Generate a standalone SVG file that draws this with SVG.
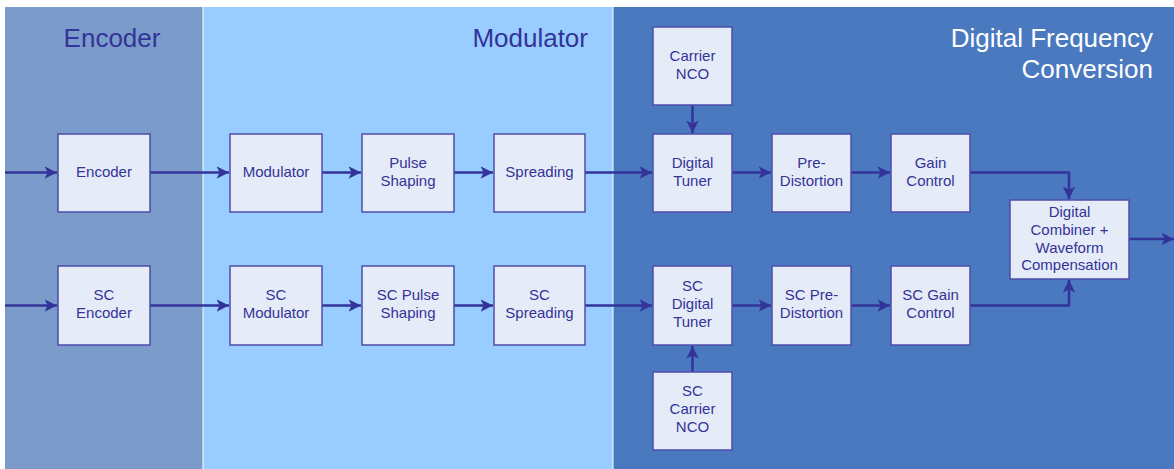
<svg xmlns="http://www.w3.org/2000/svg" width="1174" height="469" viewBox="0 0 1174 469">
<defs>
<style>
.box{fill:#e6ecf7;stroke:#4c4caa;stroke-width:1.5}
.t{font-family:"Liberation Sans",Arial,sans-serif;font-size:15px;fill:#333399;text-anchor:middle}
.title{font-family:"Liberation Sans",Arial,sans-serif;font-size:26px;fill:#333399}
.wt{fill:#ffffff}
.c{fill:none;stroke:#333399;stroke-width:2.5}
</style>
<marker id="ah" viewBox="0 0 10 10" refX="10" refY="5" markerWidth="5" markerHeight="5" markerUnits="strokeWidth" orient="auto">
<path d="M0,0 L10,5 L0,10 L2.5,5 z" fill="#333399"/>
</marker>
</defs>
<rect x="0" y="0" width="1174" height="469" fill="#ffffff"/>
<g id="panels">
<rect x="5" y="7" width="197.5" height="462" fill="#7b9bca"/>
<rect x="203.5" y="7" width="409" height="462" fill="#99ccff"/>
<rect x="613.5" y="7" width="560.5" height="462" fill="#4a79c0"/>
<text class="title" x="112" y="47" text-anchor="middle">Encoder</text>
<text class="title" x="588" y="47" text-anchor="end">Modulator</text>
<text class="title wt" x="1153" y="47" text-anchor="end">Digital Frequency</text>
<text class="title wt" x="1153" y="78" text-anchor="end">Conversion</text>
</g>
<g id="connectors">
<path class="c" d="M5,172.5 H57" marker-end="url(#ah)"/>
<path class="c" d="M150,172.5 H229" marker-end="url(#ah)"/>
<path class="c" d="M322,172.5 H361" marker-end="url(#ah)"/>
<path class="c" d="M454,172.5 H493" marker-end="url(#ah)"/>
<path class="c" d="M585,172.5 H652" marker-end="url(#ah)"/>
<path class="c" d="M732,172.5 H771" marker-end="url(#ah)"/>
<path class="c" d="M851,172.5 H890" marker-end="url(#ah)"/>
<path class="c" d="M970,172.5 H1069 V199" marker-end="url(#ah)"/>
<path class="c" d="M692.5,105 V133" marker-end="url(#ah)"/>
<path class="c" d="M5,305.5 H57" marker-end="url(#ah)"/>
<path class="c" d="M150,305.5 H229" marker-end="url(#ah)"/>
<path class="c" d="M322,305.5 H361" marker-end="url(#ah)"/>
<path class="c" d="M454,305.5 H493" marker-end="url(#ah)"/>
<path class="c" d="M585,305.5 H652" marker-end="url(#ah)"/>
<path class="c" d="M732,305.5 H771" marker-end="url(#ah)"/>
<path class="c" d="M851,305.5 H890" marker-end="url(#ah)"/>
<path class="c" d="M970,305.5 H1069 V280" marker-end="url(#ah)"/>
<path class="c" d="M692.5,372 V346" marker-end="url(#ah)"/>
<path class="c" d="M1129,239 H1174" marker-end="url(#ah)"/>
</g>
<g id="encoder"><rect class="box" x="58" y="134" width="92" height="78"/><text class="t" x="104" y="177">Encoder</text></g>
<g id="modulator"><rect class="box" x="230" y="134" width="92" height="78"/><text class="t" x="276" y="177">Modulator</text></g>
<g id="pulse-shaping"><rect class="box" x="362" y="134" width="92" height="78"/><text class="t" x="408" y="168">Pulse</text><text class="t" x="408" y="186">Shaping</text></g>
<g id="spreading"><rect class="box" x="494" y="134" width="91" height="78"/><text class="t" x="539.5" y="177">Spreading</text></g>
<g id="carrier-nco"><rect class="box" x="653" y="27" width="79" height="78"/><text class="t" x="692.5" y="61">Carrier</text><text class="t" x="692.5" y="79">NCO</text></g>
<g id="digital-tuner"><rect class="box" x="653" y="134" width="79" height="78"/><text class="t" x="692.5" y="168">Digital</text><text class="t" x="692.5" y="186">Tuner</text></g>
<g id="pre-distortion"><rect class="box" x="772" y="134" width="79" height="78"/><text class="t" x="811.5" y="168">Pre-</text><text class="t" x="811.5" y="186">Distortion</text></g>
<g id="gain-control"><rect class="box" x="891" y="134" width="79" height="78"/><text class="t" x="930.5" y="168">Gain</text><text class="t" x="930.5" y="186">Control</text></g>
<g id="combiner"><rect class="box" x="1010" y="200" width="119" height="79"/><text class="t" x="1069.5" y="217">Digital</text><text class="t" x="1069.5" y="235">Combiner +</text><text class="t" x="1069.5" y="253">Waveform</text><text class="t" x="1069.5" y="270">Compensation</text></g>
<g id="sc-encoder"><rect class="box" x="58" y="266" width="92" height="79"/><text class="t" x="104" y="300">SC</text><text class="t" x="104" y="318">Encoder</text></g>
<g id="sc-modulator"><rect class="box" x="230" y="266" width="92" height="79"/><text class="t" x="276" y="300">SC</text><text class="t" x="276" y="318">Modulator</text></g>
<g id="sc-pulse-shaping"><rect class="box" x="362" y="266" width="92" height="79"/><text class="t" x="408" y="300">SC Pulse</text><text class="t" x="408" y="318">Shaping</text></g>
<g id="sc-spreading"><rect class="box" x="494" y="266" width="91" height="79"/><text class="t" x="539.5" y="300">SC</text><text class="t" x="539.5" y="318">Spreading</text></g>
<g id="sc-digital-tuner"><rect class="box" x="653" y="266" width="79" height="79"/><text class="t" x="692.5" y="291">SC</text><text class="t" x="692.5" y="309">Digital</text><text class="t" x="692.5" y="327">Tuner</text></g>
<g id="sc-pre-distortion"><rect class="box" x="772" y="266" width="79" height="79"/><text class="t" x="811.5" y="300">SC Pre-</text><text class="t" x="811.5" y="318">Distortion</text></g>
<g id="sc-gain-control"><rect class="box" x="891" y="266" width="79" height="79"/><text class="t" x="930.5" y="300">SC Gain</text><text class="t" x="930.5" y="318">Control</text></g>
<g id="sc-carrier-nco"><rect class="box" x="653" y="372" width="79" height="78"/><text class="t" x="692.5" y="396">SC</text><text class="t" x="692.5" y="414">Carrier</text><text class="t" x="692.5" y="432">NCO</text></g>
</svg>
